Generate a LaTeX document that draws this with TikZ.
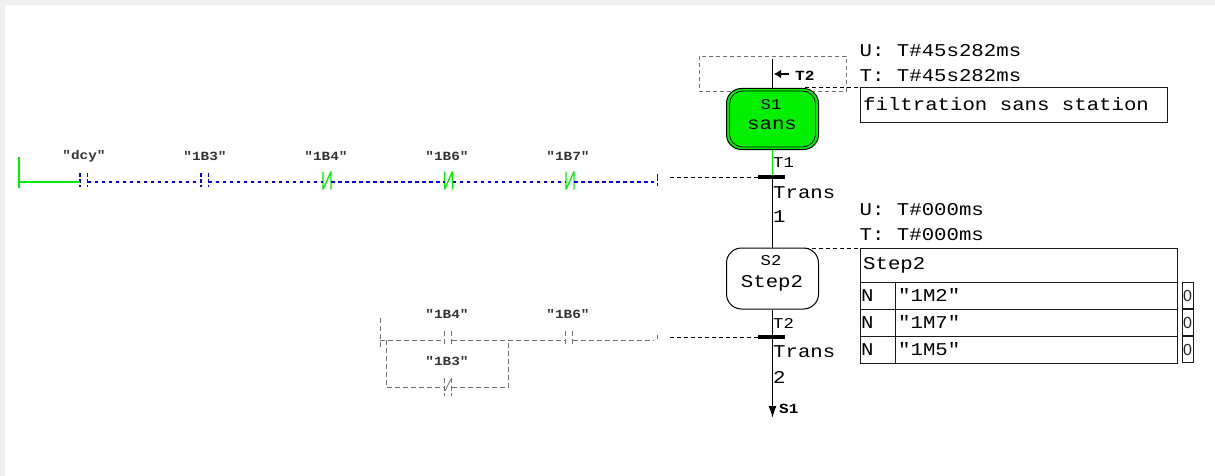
\documentclass[tikz,border=0pt]{standalone}
\usepackage{fontspec}
\usetikzlibrary{arrows.meta}
\newfontfamily\grafm[FakeStretch=1.15]{Liberation Mono}
\newfontfamily\zerofont{Liberation Sans}
\definecolor{livegreen}{HTML}{00F000}
\definecolor{stepgreen}{HTML}{00F000}
\definecolor{liveblue}{HTML}{0000F0}
\definecolor{offgrey}{HTML}{707070}
\definecolor{bandgrey}{HTML}{F0F0F0}
\newcommand{\contactNO}[5]{% name, x, y, colour style, half height
  \coordinate (#1-l) at (#2,#3);
  \coordinate (#1-r) at (#2+7.5,#3);
  \draw[#4] (#2,#3-9) -- (#2,#3+#5);
  \draw[#4] (#2+7.5,#3-9) -- (#2+7.5,#3+#5);
}
\newcommand{\contactNC}[3]{% name, x, y
  \coordinate (#1-l) at (#2,#3);
  \coordinate (#1-r) at (#2+8,#3);
  \draw[livegreen,line width=1.3pt,line join=bevel] (#2,#3-10) -- (#2,#3+8) -- (#2+8,#3-10) -- (#2+8,#3+8);
}
\tikzset{
  x=1pt,y=-1pt,
  wire/.style={black,line width=1.5pt},
  stepbox/.style={draw=black,line width=1pt,rounded corners=15pt,minimum width=92pt,minimum height=61pt,inner sep=0pt},
  bigtext/.style={anchor=west,inner sep=0pt,font=\grafm\fontsize{18}{20}\selectfont,text=black},
  smalltext/.style={anchor=west,inner sep=0pt,font=\grafm\fontsize{15}{16}\selectfont,text=black},
  centretext/.style={inner sep=0pt,font=\grafm\fontsize{18}{20}\selectfont,text=black},
  centresmall/.style={inner sep=0pt,font=\grafm\fontsize{15}{16}\selectfont,text=black},
  taglabel/.style={inner sep=0pt,font=\grafm\bfseries\fontsize{12.5}{14}\selectfont,text=black!80},
  bar/.style={draw=black,line width=3.5pt},
  cell/.style={draw=black!90,line width=1.2pt,inner sep=0pt,anchor=north west},
  livewire/.style={liveblue,line width=1.3pt,dash pattern=on 3.5pt off 3.5pt},
  offwire/.style={offgrey,line width=.8pt,dash pattern=on 5pt off 3pt},
  blackdash/.style={black,line width=1pt,dash pattern=on 4pt off 3pt},
  rail/.style={livegreen,line width=1.5pt}
}
\begin{document}
\begin{tikzpicture}
\useasboundingbox (0,0) rectangle (1215,476);
\fill[white] (0,0) rectangle (1215,476);
\fill[bandgrey] (0,0) rectangle (1215,5);
\fill[bandgrey] (0,0) rectangle (5,476);

% --- right: sequencer
\node[draw=offgrey,line width=.9pt,dash pattern=on 4pt off 3pt,minimum width=147pt,minimum height=35pt,inner sep=0pt,anchor=north west] (jumpbox) at (699,56) {};
\coordinate (top) at (772.5,59);
\node[stepbox,fill=stepgreen] (s1) at (772.5,119) {};
\draw[black,line width=.8pt,rounded corners=13pt] (729.5,91) rectangle (815.5,147);
\node[centresmall] (s1name) at (771,105) {S1};
\node[centretext] (s1text) at (772,125) {sans};
\node[stepbox,fill=white] (s2) at (772.5,278.5) {};
\node[centresmall] (s2name) at (771,261) {S2};
\node[centretext] (s2text) at (772,283) {Step2};
\coordinate (t1) at (772.5,177);
\coordinate (t2) at (772.5,337);
\coordinate (endline) at (772.5,418);
\draw[wire] (top) -- (s1.north);
\draw[livegreen,line width=1.2pt] (s1.south) -- (t1);
\draw[wire] (t1) -- (s2.north);
\draw[wire] (s2.south) -- (t2);
\draw[wire,-{Latex[length=12pt,width=8pt]}] (t2) -- (endline);
\coordinate (t1a) at (758,177);
\coordinate (t1b) at (785,177);
\coordinate (t2a) at (758,337);
\coordinate (t2b) at (785,337);
\draw[bar] (t1a) -- (t1b);
\draw[bar] (t2a) -- (t2b);

\coordinate (jumptip) at (774,74);
\coordinate (jumpend) at (789,74);
\draw[black,line width=2pt,-{Latex[length=7pt,width=9pt]}] (jumpend) -- (jumptip);
\node[smalltext,font=\grafm\bfseries\fontsize{14}{16}\selectfont] (jumplabel) at (795,76) {T2};
\node[smalltext] (t1label) at (773,163) {T1};
\node[bigtext] (trans1a) at (773,193) {Trans};
\node[bigtext] (trans1b) at (773,217) {1};
\node[smalltext] (t2label) at (773,323) {T2};
\node[bigtext] (trans2a) at (773,352) {Trans};
\node[bigtext] (trans2b) at (773,377) {2};
\node[smalltext,font=\grafm\bfseries\fontsize{14}{16}\selectfont] (s1ref) at (779,409) {S1};

% --- timers and tables
\node[bigtext] (u1) at (859.5,51) {U: T\#45s282ms};
\node[bigtext] (tt1) at (859.5,76) {T: T\#45s282ms};
\node[bigtext] (u2) at (859.5,210) {U: T\#000ms};
\node[bigtext] (tt2) at (859.5,235) {T: T\#000ms};
\node[cell,minimum width=307pt,minimum height=35pt] (comment) at (860,87) {};
\node[bigtext] (commenttext) at (863,104.5) {filtration sans station};
\coordinate (s1corner) at (805,88);
\draw[blackdash] (s1corner) -- (s1corner -| comment.west);

\node[cell,minimum width=317pt,minimum height=34pt] (title) at (860,248) {};
\node[bigtext] (titletext) at (863,265) {Step2};
\coordinate (s2corner) at (805,248);
\draw[blackdash] (s2corner) -- (title.north west);
\foreach \n/\y/\t in {a/282/1M2,b/309/1M7,c/336/1M5}{
  \node[cell,minimum width=35pt,minimum height=27pt] (q\n) at (860,\y) {};
  \node[cell,minimum width=282pt,minimum height=27pt] (v\n) at (895,\y) {};
  \node[cell,minimum width=11pt,minimum height=26pt] (z\n) at (1182,\y) {};
  \node[bigtext] (qt\n) at (861,\y+14) {N};
  \node[bigtext] (vt\n) at (898,\y+13) {"\t"};
  \node[inner sep=0pt,font=\zerofont\fontsize{16}{18}\selectfont,text=black!85] (zt\n) at (1187.5,\y+13.5) {0};
}

% --- live network
\coordinate (r1t) at (19,157);
\coordinate (r1b) at (19,188);
\coordinate (r1m) at (19,182);
\draw[rail,line width=1.3pt] (r1t) -- (r1b);
\contactNO{c1}{80}{182}{liveblue,line width=1.2pt,dash pattern=on 3.5pt off 2.5pt}{5}
\contactNO{c2}{201}{182}{liveblue,line width=1.2pt,dash pattern=on 3.5pt off 2.5pt}{5}
\contactNC{c3}{323}{181.5}
\contactNC{c4}{444.5}{181.5}
\contactNC{c5}{566}{181.5}
\coordinate (c3l) at (323,182);
\coordinate (c3r) at (331,182);
\coordinate (c4l) at (444.5,182);
\coordinate (c4r) at (452.5,182);
\coordinate (c5l) at (566,182);
\coordinate (c5r) at (574,182);
\coordinate (end1) at (654,182);
\draw[rail] (r1m) -- (c1-l);
\draw[livewire] (c1-r) -- (c2-l);
\draw[livewire] (c2-r) -- (c3l);
\draw[livewire] (c3r) -- (c4l);
\draw[livewire] (c4r) -- (c5l);
\draw[livewire] (c5r) -- (end1);
\draw[liveblue,line width=1.2pt,dash pattern=on 7pt off 2pt] (657.5,174) -- (657.5,186);
\coordinate (out1) at (670,177);
\draw[blackdash] (out1) -- (t1a);
\node[taglabel] (lab1) at (84,156) {"dcy"};
\node[taglabel] (lab2) at (205,156) {"1B3"};
\node[taglabel] (lab3) at (326,156) {"1B4"};
\node[taglabel] (lab4) at (447,156) {"1B6"};
\node[taglabel] (lab5) at (568,156) {"1B7"};

% --- inactive network
\coordinate (r2t) at (380,318);
\coordinate (r2b) at (380,349);
\coordinate (r2m) at (380,340);
\coordinate (b1) at (386,340);
\coordinate (b2) at (386,387);
\coordinate (b3) at (508,387);
\coordinate (b4) at (508,340);
\draw[offwire] (r2t) -- (r2b);
\contactNO{d1}{444}{340}{offgrey,line width=.8pt,dash pattern=on 5pt off 2.5pt}{5}
\contactNO{d2}{444}{387}{offgrey,line width=.8pt,dash pattern=on 5pt off 2.5pt}{9}
\draw[offgrey,line width=.8pt] (445,391) -- (451,379);
\contactNO{d3}{565}{340}{offgrey,line width=.8pt,dash pattern=on 5pt off 2.5pt}{5}
\coordinate (end2) at (654,340);
\draw[offwire] (r2m) -- (d1-l);
\draw[offwire] (d1-r) -- (b4);
\draw[offwire] (b4) -- (d3-l);
\draw[offwire] (d3-r) -- (end2);
\draw[offwire] (b1) -- (b2) -- (d2-l);
\draw[offwire] (d2-r) -- (b3) -- (b4);
\draw[offgrey,line width=.8pt] (657,335) -- (657,339);
\coordinate (out2) at (670,337);
\draw[blackdash] (out2) -- (t2a);
\node[taglabel] (lab6) at (447,314) {"1B4"};
\node[taglabel] (lab7) at (447,361) {"1B3"};
\node[taglabel] (lab8) at (568,314) {"1B6"};
\end{tikzpicture}
\end{document}
